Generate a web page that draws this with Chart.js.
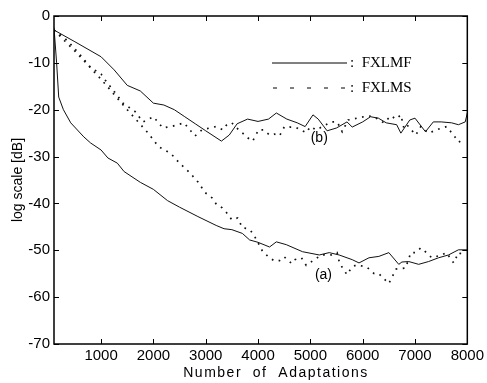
<!DOCTYPE html>
<html>
<head>
<meta charset="utf-8">
<script src="https://cdn.jsdelivr.net/npm/chart.js"></script>
<style>
  html, body { margin: 0; padding: 0; background: #fff; }
  #wrap { width: 487px; height: 383px; }
</style>
</head>
<body>
<div id="wrap"><canvas id="myChart" width="487" height="383"></canvas></div>
<script>
// x ticks / y ticks
var xTicks = [1000, 2000, 3000, 4000, 5000, 6000, 7000, 8000];
var yTicks = [-70, -60, -50, -40, -30, -20, -10, 0];

// curve (a), FXLMF solid
var fxlmfA_x = [100, 150, 190, 280, 420, 670, 800, 1000, 1130, 1310, 1440, 1750, 2000, 2270, 2500, 2850, 3200, 3350, 3500, 3700, 3840, 4000, 4220, 4350, 4540, 4850, 5170, 5360, 5550, 5800, 5930, 6120, 6310, 6500, 6690, 6750, 6880, 7070, 7260, 7450, 7640, 7830, 8000];
var fxlmfA_y = [-2.5, -10, -17.3, -20, -22.8, -25.8, -27.1, -28.6, -30.3, -31.4, -33.2, -35.5, -37, -39.4, -40.8, -42.8, -44.7, -45.4, -45.6, -46.4, -47.8, -48.3, -49.3, -48.2, -48.8, -50.3, -51, -50.5, -51, -52, -52.7, -51.6, -51.3, -50.5, -53, -52.5, -52.4, -53, -52.4, -51.6, -51, -49.9, -49.9];

// curve (a), FXLMS dotted
var fxlmsA_x = [100, 500, 1000, 1500, 1900, 2100, 2330, 2500, 2700, 2850, 2990, 3120, 3210, 3310, 3400, 3500, 3610, 3700, 3810, 3900, 4090, 4220, 4320, 4410, 4500, 4640, 4700, 4830, 4920, 5210, 5400, 5510, 5560, 5700, 5800, 5890, 6080, 6220, 6310, 6410, 6500, 6640, 6820, 6920, 7010, 7110, 7220, 7320, 7510, 7600, 7740, 7830, 7930];
var fxlmsA_y = [-3, -7.5, -13.5, -20, -25, -27.9, -29.3, -31.4, -33.5, -35.4, -37.7, -38.8, -40.3, -40.9, -42, -43.5, -43.1, -45.2, -45.4, -46.3, -50.3, -51.6, -52.3, -52.2, -51.4, -52.8, -52, -51.6, -53.2, -51, -51, -50.5, -52.8, -55.2, -53.5, -53.1, -53.6, -55, -55, -56.1, -57.1, -54, -53.8, -50.5, -50.5, -49.5, -50.5, -51.6, -51, -50.5, -52.7, -50.5, -51];

// curve (b), FXLMF solid
var fxlmfB_x = [100, 500, 1000, 1250, 1500, 1750, 2000, 2200, 2400, 2600, 2800, 3000, 3300, 3450, 3600, 3800, 4000, 4200, 4350, 4550, 4750, 4900, 5050, 5150, 5320, 5500, 5700, 5800, 6000, 6150, 6300, 6450, 6650, 6730, 6900, 7000, 7200, 7350, 7500, 7700, 7830, 7960, 8000];
var fxlmfB_y = [-3, -5.5, -8.7, -11.5, -14.8, -16, -18.6, -19, -20, -21.5, -23, -24.5, -26.7, -25.4, -23, -22, -22.5, -22, -20.7, -22, -22.8, -23.6, -21.1, -22, -24.5, -23.9, -22.6, -23.7, -22.6, -21.5, -21.8, -22.8, -23.2, -25, -22.2, -21.8, -24.7, -22.6, -22.6, -22.8, -23.2, -22.6, -20.7];

// curve (b), FXLMS dotted
var fxlmsB_x = [100, 300, 400, 600, 800, 1000, 1100, 1300, 1420, 1650, 1800, 2000, 2180, 2370, 2585, 2795, 2928, 3194, 3327, 3403, 3498, 3593, 3707, 3802, 3897, 4011, 4106, 4220, 4315, 4410, 4505, 4620, 4715, 4810, 4924, 5000, 5114, 5399, 5513, 5608, 5722, 6102, 6216, 6406, 6540, 6635, 6730, 6787, 6844, 7015, 7110, 7262, 7414, 7509, 7604, 7737, 7832, 7927];
var fxlmsB_y = [-3, -4.7, -5.8, -8.3, -11, -12.4, -14, -16.8, -18.6, -20.4, -22.6, -21.5, -23.9, -23.5, -22.8, -25.6, -24.3, -23.6, -24.3, -23.2, -22.8, -23.9, -25, -26, -26.7, -24.3, -24.3, -25.4, -25.2, -25.6, -23.6, -23.7, -23.7, -24.3, -24.9, -23.6, -24.3, -22.6, -22.6, -24.7, -22.2, -21.3, -21.5, -22.8, -21.3, -22, -21.1, -23.9, -23.2, -25.4, -23.6, -25, -24.3, -23.9, -23.6, -25.4, -26.9, -26.4];

function pts(xs, ys) {
    return xs.map(function (x, i) { return { x: x, y: ys[i] }; });
}

var solid = { borderColor: '#111', borderWidth: 1, pointRadius: 0, tension: 0, fill: false };
var dotted = { borderColor: '#111', borderWidth: 1.7, borderDash: [1.7, 5.5], pointRadius: 0, tension: 0, fill: false };

// box, inward ticks, legend, x title and curve labels
var frame = {
    id: 'frame',
    afterDraw: function (chart) {
        var c = chart.ctx, a = chart.chartArea;
        var xs = chart.scales.x, ys = chart.scales.y;
        c.save();
        c.strokeStyle = '#000';
        c.lineWidth = 1.5;
        c.strokeRect(a.left, a.top, a.right - a.left, a.bottom - a.top);
        c.lineWidth = 1;
        c.beginPath();
        xTicks.forEach(function (v) {
            var p = Math.round(xs.getPixelForValue(v)) + 0.5;
            c.moveTo(p, a.bottom); c.lineTo(p, a.bottom - 5);
            c.moveTo(p, a.top); c.lineTo(p, a.top + 5);
        });
        yTicks.forEach(function (v) {
            var p = Math.round(ys.getPixelForValue(v)) + 0.5;
            c.moveTo(a.left, p); c.lineTo(a.left + 5, p);
            c.moveTo(a.right, p); c.lineTo(a.right - 5, p);
        });
        c.stroke();

        // legend
        var lx = a.left + 218, ly = a.top + 47;
        c.beginPath();
        c.moveTo(lx, ly); c.lineTo(lx + 75, ly);
        c.stroke();
        c.setLineDash([4, 13]);
        c.beginPath();
        c.moveTo(lx + 1, ly + 25); c.lineTo(lx + 75, ly + 25);
        c.stroke();
        c.setLineDash([]);
        c.fillStyle = '#000';
        c.font = '15px "Liberation Serif"';
        c.textBaseline = 'middle';
        c.fillText(':  FXLMF', lx + 78, ly);
        c.fillText(':  FXLMS', lx + 78, ly + 25);

        c.font = '14px "Liberation Sans"';
        c.textAlign = 'center';
        c.fillText('(b)', xs.getPixelForValue(5170), ys.getPixelForValue(-26));
        c.fillText('(a)', xs.getPixelForValue(5250), ys.getPixelForValue(-55.3));

        // x axis title
        c.letterSpacing = '1.5px';
        c.fillText('Number  of  Adaptations', 276, 373);
        c.restore();
    }
};

var ctx = document.getElementById('myChart');
var myChart = new Chart(ctx, {
    type: 'line',
    data: {
        datasets: [
            Object.assign({ label: 'FXLMF (a)', data: pts(fxlmfA_x, fxlmfA_y) }, solid),
            Object.assign({ label: 'FXLMS (a)', data: pts(fxlmsA_x, fxlmsA_y) }, dotted),
            Object.assign({ label: 'FXLMF (b)', data: pts(fxlmfB_x, fxlmfB_y) }, solid),
            Object.assign({ label: 'FXLMS (b)', data: pts(fxlmsB_x, fxlmsB_y) }, dotted)
        ]
    },
    options: {
        responsive: false,
        animation: false,
        layout: { padding: { left: 0, top: 16, right: 17, bottom: 0 } },
        plugins: { legend: { display: false }, tooltip: { enabled: false } },
        scales: {
            x: {
                type: 'linear',
                min: 100,
                max: 8000,
                grid: { display: false, drawTicks: false },
                border: { display: false },
                afterBuildTicks: function (s) { s.ticks = xTicks.map(function (v) { return { value: v }; }); },
                afterFit: function (s) { s.height = 39; },
                ticks: {
                    color: '#000', padding: 3, maxRotation: 0,
                    font: { family: 'Liberation Sans', size: 15 },
                    callback: function (v) { return String(v); }
                }
            },
            y: {
                min: -70,
                max: 0,
                grid: { display: false, drawTicks: false },
                border: { display: false },
                afterBuildTicks: function (s) { s.ticks = yTicks.map(function (v) { return { value: v }; }); },
                afterFit: function (s) { s.width = 54; },
                ticks: { color: '#000', padding: 4, font: { family: 'Liberation Sans', size: 15 } },
                title: { display: true, text: 'log scale [dB]', color: '#000', padding: { top: 10, bottom: 0 }, font: { family: 'Liberation Sans', size: 14 } }
            }
        }
    },
    plugins: [frame]
});
</script>
</body>
</html>
